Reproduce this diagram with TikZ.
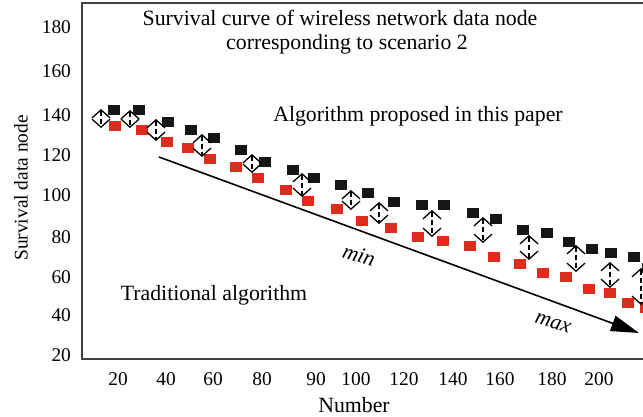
\documentclass[tikz,border=0pt]{standalone}
\usepackage{fontspec}
\setmainfont{Liberation Serif}
\usepackage{xcolor}
\usepackage{tikz}
\usetikzlibrary{arrows.meta}
\definecolor{ptred}{RGB}{221,44,30}
\definecolor{ptblack}{RGB}{22,22,22}

\begin{document}
\begin{tikzpicture}[x=0.5pt,y=-0.5pt,
    txt/.style={font=\fontsize{10.9}{13}\selectfont},
    ticklbl/.style={font=\fontsize{9.7}{11}\selectfont},
    blk/.style={fill=ptblack,inner sep=0pt,minimum width=6.2pt,minimum height=4.8pt},
    rd/.style={fill=ptred,inner sep=0pt,minimum width=6.2pt,minimum height=4.8pt},
    gap/.style={line width=0.65pt,dash pattern=on 2.5pt off 1.5pt,
        {Straight Barb[length=4pt,width=9pt]}-{Straight Barb[length=4pt,width=9pt]}}]
    \useasboundingbox (0,0) rectangle (643,417);

    % frame
    \draw[line width=0.7pt,black!75] (643,3) -- (82,3) -- (82,359) -- (643,359);

    % tick labels
    \foreach \val/\ypos in {180/27,160/71,140/115,120/155,100/195,80/237,60/277,40/315,20/355}
        \node[ticklbl,anchor=east] (y\val) at (78,\ypos) {\val};
    \foreach \val/\xpos in {20/118,40/166,60/213,80/262,90/316,100/356,120/404,140/453,160/500,180/552,200/599}
        \node[ticklbl] (x\val) at (\xpos,379) {\val};

    % axis labels
    \node[txt] (xlab) at (354,405) {Number};
    \node[ticklbl,rotate=90] (ylab) at (21,188) {Survival data node};

    % titles and captions
    \node[txt] (ttl1) at (340,18) {Survival curve of wireless network data node};
    \node[txt] (ttl2) at (347,44) {corresponding to scenario 2};
    \node[txt] (prop) at (418,116) {Algorithm proposed in this paper};
    \node[txt] (trad) at (214,295) {Traditional algorithm};

    % trend arrow
    \coordinate (tstart) at (159,157);
    \coordinate (tend) at (639,333);
    \draw[line width=0.8pt,-{Triangle[length=14pt,width=8pt]}] (tstart) -- (tend);
    \node[txt,rotate=-17] (minlbl) at (359,255) {\textit{min}};
    \node[txt,rotate=-17] (maxlbl) at (553,323) {\textit{max}};

    % proposed algorithm
    \foreach \px/\py [count=\i] in {114/110,139/110,168/122,191/130,214/138,241/150,265/162,293/170,
        314/178,341/185,368/193,394/202,422/205,444/205,473/213,496/219,523/230,547/233,569/242,
        592/249,611/253,634/257,648/268}
        \node[blk] (b\i) at (\px,\py) {};

    % traditional algorithm
    \foreach \px/\py [count=\i] in {115/126,142/130,167/142,188/148,210/159,236/167,258/178,286/190,
        308/201,337/209,362/221,391/228,418/237,443/241,470/246,494/257,520/264,543/273,566/277,
        589/289,610/293,628/303,646/308}
        \node[rd] (r\i) at (\px,\py) {};

    % gaps between the two
    \foreach \px/\ya/\yb [count=\i] in {101/109/128,130/110/128,156/119/141,202/134/157,252/154/173,
        302/173/197,351/190/210,379/202/224,432/210/237,483/217/243,529/235/260,576/245/272,
        610/262/288,641/268/305}{
        \coordinate (ga\i) at (\px,\ya);
        \coordinate (gb\i) at (\px,\yb);
        \draw[gap] (ga\i) -- (gb\i);
    }
\end{tikzpicture}
\end{document}
